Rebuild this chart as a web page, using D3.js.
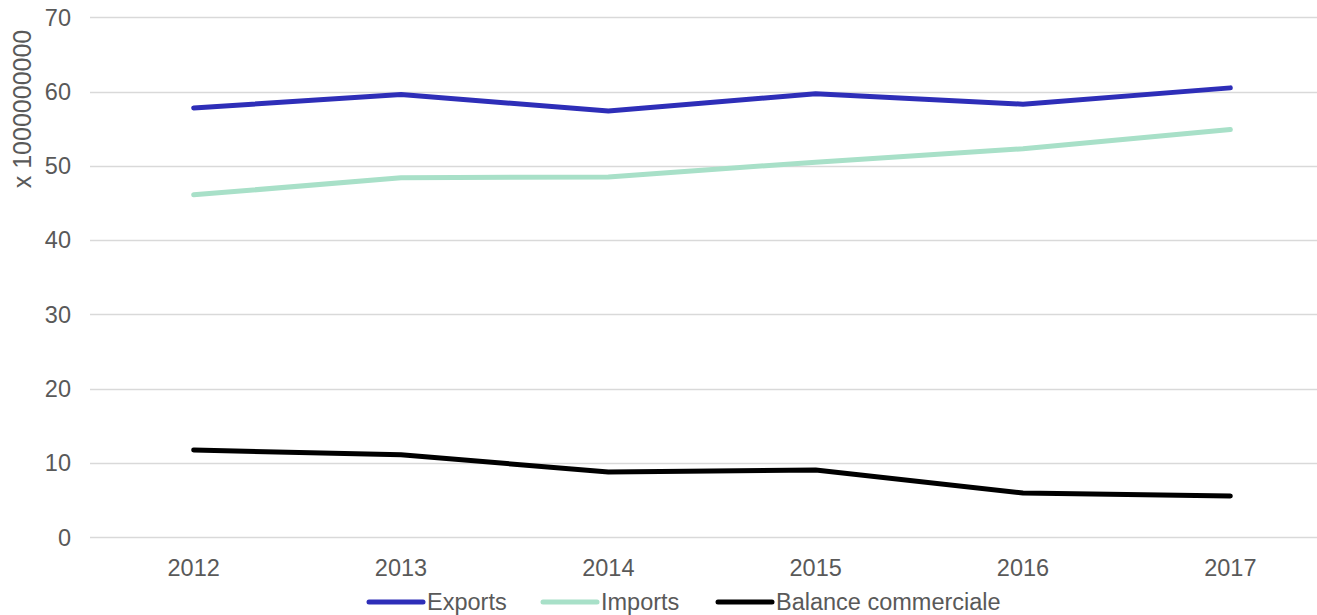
<!DOCTYPE html>
<html>
<head>
<meta charset="utf-8">
<script src="https://cdn.jsdelivr.net/npm/d3@7"></script>
<style>
  body { margin: 0; background: #fff; }
  text { font-family: "Liberation Sans", Arial, sans-serif; fill: #595959; }
</style>
</head>
<body>
<script>
// chart data
var years = ["2012", "2013", "2014", "2015", "2016", "2017"];
var exportsValues = [57.8, 59.6, 57.4, 59.7, 58.3, 60.5];
var importsValues = [46.1, 48.4, 48.5, 50.5, 52.3, 54.9];
var balanceValues = [11.75, 11.1, 8.8, 9.05, 5.95, 5.55];
var yTicks = [0, 10, 20, 30, 40, 50, 60, 70];
var seriesNames = ["Exports", "Imports", "Balance commerciale"];
var seriesColors = ["#2e2eb8", "#a8e0c8", "#000000"];

var width = 1317, height = 615;

var svg = d3.select("body").append("svg")
    .attr("width", width)
    .attr("height", height);

// scales
var x = d3.scaleBand()
    .domain(years)
    .range([90, 1334]);

var y = d3.scaleLinear()
    .domain([0, 70])
    .range([537.3, 17.3]);

// gridlines
svg.append("g")
  .selectAll("line")
  .data(yTicks)
  .enter()
  .append("line")
    .attr("x1", 90)
    .attr("x2", 1317)
    .attr("y1", function(d) { return Math.round(y(d)) + 0.5; })
    .attr("y2", function(d) { return Math.round(y(d)) + 0.5; })
    .attr("stroke", "#d9d9d9")
    .attr("stroke-width", 1.3);

// y tick labels
svg.append("g")
  .selectAll("text")
  .data(yTicks)
  .enter()
  .append("text")
    .attr("x", 71)
    .attr("y", function(d) { return y(d); })
    .attr("dy", "0.35em")
    .attr("text-anchor", "end")
    .style("font-size", "23.5px")
    .text(function(d) { return d; });

// x tick labels
svg.append("g")
  .selectAll("text")
  .data(years)
  .enter()
  .append("text")
    .attr("x", function(d) { return x(d) + x.bandwidth() / 2; })
    .attr("y", 576)
    .attr("text-anchor", "middle")
    .style("font-size", "23.5px")
    .text(function(d) { return d; });

// y axis title
svg.append("text")
    .attr("transform", "translate(31,109) rotate(-90)")
    .attr("text-anchor", "middle")
    .style("font-size", "25px")
    .text("x 1000000000");

// lines
var line = d3.line()
    .x(function(d, i) { return x(years[i]) + x.bandwidth() / 2; })
    .y(function(d) { return y(d); });

var allSeries = [exportsValues, importsValues, balanceValues];

svg.append("g")
  .selectAll("path")
  .data(allSeries)
  .enter()
  .append("path")
    .attr("d", line)
    .attr("fill", "none")
    .attr("stroke", function(d, i) { return seriesColors[i]; })
    .attr("stroke-width", 5)
    .attr("stroke-linecap", "round")
    .attr("stroke-linejoin", "round");

// legend
var legendX = [367, 541, 716];
var legend = svg.append("g")
  .selectAll("g")
  .data(seriesNames)
  .enter()
  .append("g")
    .attr("transform", function(d, i) { return "translate(" + legendX[i] + ",602)"; });

legend.append("line")
    .attr("x1", 2)
    .attr("x2", 56)
    .attr("y1", 0)
    .attr("y2", 0)
    .attr("stroke", function(d, i) { return seriesColors[i]; })
    .attr("stroke-width", 5)
    .attr("stroke-linecap", "round");

legend.append("text")
    .attr("x", 60)
    .attr("y", 0)
    .attr("dy", "0.35em")
    .style("font-size", "23.5px")
    .text(function(d) { return d; });
</script>
</body>
</html>
